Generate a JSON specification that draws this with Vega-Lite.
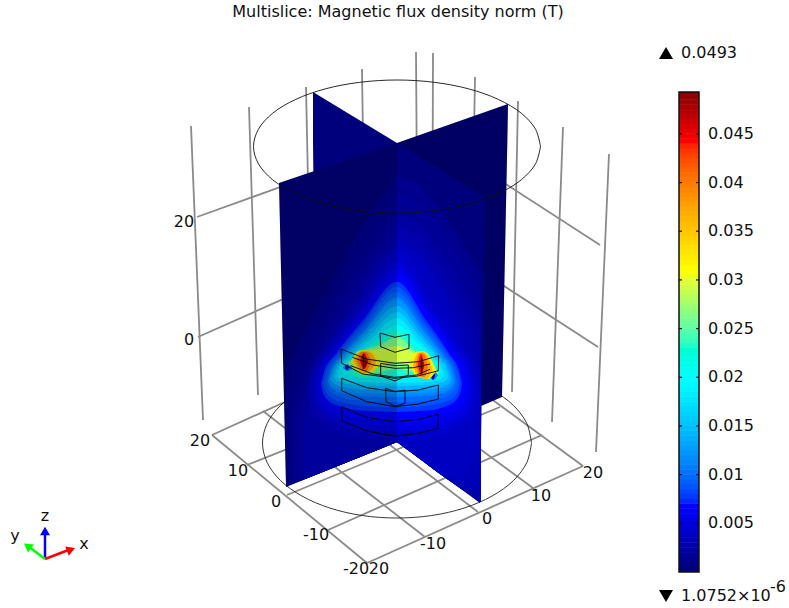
{"$schema":"https://vega.github.io/schema/vega-lite/v6.json","width":789,"height":608,"autosize":{"type":"fit","contains":"padding"},"padding":0,"background":"white","config":{"view":{"stroke":null},"text":{"font":"DejaVu Sans","color":"#111"}},
"datasets":{
"grid":[
{"g":"a0","x":367,"y":563},{"g":"a0","x":583,"y":466},
{"g":"a1","x":328,"y":530},{"g":"a1","x":542,"y":435},
{"g":"a2","x":287,"y":495},{"g":"a2","x":500,"y":407},
{"g":"a3","x":247,"y":465},{"g":"a3","x":458,"y":381},
{"g":"a4","x":212,"y":435},{"g":"a4","x":415,"y":343},
{"g":"b0","x":212,"y":435},{"g":"b0","x":367,"y":563},
{"g":"b1","x":263,"y":411},{"g":"b1","x":425,"y":537},
{"g":"b2","x":315,"y":388},{"g":"b2","x":478,"y":512},
{"g":"b3","x":366,"y":365},{"g":"b3","x":533,"y":488},
{"g":"b4","x":415,"y":343},{"g":"b4","x":583,"y":466},
{"g":"v0","x":191,"y":126},{"g":"v0","x":203,"y":420},
{"g":"v1","x":249,"y":107},{"g":"v1","x":258,"y":395},
{"g":"v2","x":306,"y":87},{"g":"v2","x":312,"y":370},
{"g":"v3","x":362,"y":69},{"g":"v3","x":366,"y":350},
{"g":"v4","x":416,"y":52},{"g":"v4","x":418,"y":330},
{"g":"v5","x":433,"y":53},{"g":"v5","x":432,"y":340},
{"g":"v6","x":475,"y":77},{"g":"v6","x":470,"y":365},
{"g":"v7","x":518,"y":101},{"g":"v7","x":512,"y":392},
{"g":"v8","x":563,"y":127},{"g":"v8","x":552,"y":422},
{"g":"v9","x":609,"y":154},{"g":"v9","x":596,"y":452},
{"g":"h0","x":197,"y":217},{"g":"h0","x":416,"y":138},
{"g":"h1","x":198,"y":337},{"g":"h1","x":416,"y":240},
{"g":"h2","x":600,"y":245},{"g":"h2","x":433,"y":137},
{"g":"h3","x":598,"y":347},{"g":"h3","x":433,"y":240}],
"bottomEllipse":[{"o":0,"x":531.5,"y":443},{"o":1,"x":526.9,"y":462.4},{"o":2,"x":513.5,"y":480.5},{"o":3,"x":492.1,"y":496},{"o":4,"x":464.3,"y":508},{"o":5,"x":431.8,"y":515.5},{"o":6,"x":397,"y":518},{"o":7,"x":362.2,"y":515.5},{"o":8,"x":329.7,"y":508},{"o":9,"x":301.9,"y":496},{"o":10,"x":280.5,"y":480.5},{"o":11,"x":267.1,"y":462.4},{"o":12,"x":262.5,"y":443},{"o":13,"x":267.1,"y":423.6},{"o":14,"x":280.5,"y":405.5},{"o":15,"x":301.9,"y":390},{"o":16,"x":329.7,"y":378},{"o":17,"x":362.2,"y":370.5},{"o":18,"x":397,"y":368},{"o":19,"x":431.8,"y":370.5},{"o":20,"x":464.3,"y":378},{"o":21,"x":492.1,"y":390},{"o":22,"x":513.5,"y":405.5},{"o":23,"x":526.9,"y":423.6},{"o":24,"x":531.5,"y":443}],
"topEllipse":[{"o":0,"x":540.5,"y":146.5},{"o":1,"x":535.6,"y":163.7},{"o":2,"x":521.3,"y":179.8},{"o":3,"x":498.5,"y":193.5},{"o":4,"x":468.8,"y":204.1},{"o":5,"x":434.2,"y":210.7},{"o":6,"x":397,"y":213},{"o":7,"x":359.8,"y":210.7},{"o":8,"x":325.2,"y":204.1},{"o":9,"x":295.5,"y":193.5},{"o":10,"x":272.7,"y":179.8},{"o":11,"x":258.4,"y":163.7},{"o":12,"x":253.5,"y":146.5},{"o":13,"x":258.4,"y":129.3},{"o":14,"x":272.7,"y":113.2},{"o":15,"x":295.5,"y":99.5},{"o":16,"x":325.2,"y":88.9},{"o":17,"x":359.8,"y":82.3},{"o":18,"x":397,"y":80},{"o":19,"x":434.2,"y":82.3},{"o":20,"x":468.8,"y":88.9},{"o":21,"x":498.5,"y":99.5},{"o":22,"x":521.3,"y":113.2},{"o":23,"x":535.6,"y":129.3},{"o":24,"x":540.5,"y":146.5}],
"panelsBack":[
{"p":"LB","v":0,"y":92,"x":313,"x2":313},{"p":"LB","v":0,"y":143,"x":313,"x2":397},{"p":"LB","v":0,"y":300,"x":315,"x2":397},
{"p":"RB","v":0,"y":104,"x":508,"x2":508},{"p":"RB","v":0,"y":143,"x":397,"x2":507.3},{"p":"RB","v":0,"y":397,"x":397,"x2":502},{"p":"RB","v":0,"y":442,"x":397,"x2":397}],
"shadeBack":[{"y":104,"x":508,"x2":508},{"y":143,"x":397,"x2":507.3},{"y":397,"x":397,"x2":502},{"y":442,"x":397,"x2":397}],
"panelsFront":[
{"p":"FL","v":0,"y":143,"x":397,"x2":397},{"p":"FL","v":0,"y":183,"x":279,"x2":397},{"p":"FL","v":0,"y":442,"x":285,"x2":397},{"p":"FL","v":0,"y":487,"x":286,"x2":286},
{"p":"FR","v":0,"y":143,"x":397,"x2":397},{"p":"FR","v":0,"y":198,"x":397,"x2":485},{"p":"FR","v":0,"y":442,"x":397,"x2":481},{"p":"FR","v":0,"y":503,"x":480,"x2":480}],
"shadeFront":[{"y":143,"x":397,"x2":397},{"y":183,"x":279,"x2":397},{"y":442,"x":285,"x2":397},{"y":487,"x":286,"x2":286}],
"outer":[
{"b":1,"v":0.001,"x":286,"y":370,"y2":486},{"b":1,"v":0.001,"x":310,"y":320,"y2":477},{"b":1,"v":0.001,"x":330,"y":285,"y2":469},{"b":1,"v":0.001,"x":350,"y":245,"y2":461},{"b":1,"v":0.001,"x":375,"y":205,"y2":451},{"b":1,"v":0.001,"x":397,"y":175,"y2":442},{"b":1,"v":0.001,"x":420,"y":185,"y2":459},{"b":1,"v":0.001,"x":440,"y":210,"y2":474},{"b":1,"v":0.001,"x":460,"y":240,"y2":488},{"b":1,"v":0.001,"x":481,"y":275,"y2":502},
{"b":2,"v":0.0015,"x":288,"y":390,"y2":485},{"b":2,"v":0.0015,"x":310,"y":338,"y2":477},{"b":2,"v":0.0015,"x":330,"y":300,"y2":469},{"b":2,"v":0.0015,"x":350,"y":262,"y2":461},{"b":2,"v":0.0015,"x":375,"y":222,"y2":451},{"b":2,"v":0.0015,"x":397,"y":193,"y2":442},{"b":2,"v":0.0015,"x":420,"y":205,"y2":459},{"b":2,"v":0.0015,"x":440,"y":230,"y2":474},{"b":2,"v":0.0015,"x":460,"y":260,"y2":488},{"b":2,"v":0.0015,"x":481,"y":298,"y2":502},
{"b":3,"v":0.002,"x":290,"y":410,"y2":484},{"b":3,"v":0.002,"x":310,"y":355,"y2":477},{"b":3,"v":0.002,"x":330,"y":315,"y2":469},{"b":3,"v":0.002,"x":350,"y":280,"y2":461},{"b":3,"v":0.002,"x":375,"y":240,"y2":451},{"b":3,"v":0.002,"x":397,"y":212,"y2":442},{"b":3,"v":0.002,"x":420,"y":225,"y2":459},{"b":3,"v":0.002,"x":440,"y":250,"y2":474},{"b":3,"v":0.002,"x":460,"y":280,"y2":488},{"b":3,"v":0.002,"x":481,"y":320,"y2":502},
{"b":4,"v":0.0025,"x":295,"y":415,"y2":482},{"b":4,"v":0.0025,"x":310,"y":365,"y2":477},{"b":4,"v":0.0025,"x":330,"y":327,"y2":469},{"b":4,"v":0.0025,"x":350,"y":292,"y2":461},{"b":4,"v":0.0025,"x":375,"y":252,"y2":451},{"b":4,"v":0.0025,"x":397,"y":223,"y2":442},{"b":4,"v":0.0025,"x":420,"y":237,"y2":459},{"b":4,"v":0.0025,"x":440,"y":265,"y2":474},{"b":4,"v":0.0025,"x":460,"y":298,"y2":488},{"b":4,"v":0.0025,"x":481,"y":345,"y2":502},
{"b":5,"v":0.003,"x":300,"y":420,"y2":481},{"b":5,"v":0.003,"x":310,"y":375,"y2":477},{"b":5,"v":0.003,"x":330,"y":338,"y2":469},{"b":5,"v":0.003,"x":350,"y":303,"y2":461},{"b":5,"v":0.003,"x":375,"y":263,"y2":451},{"b":5,"v":0.003,"x":397,"y":235,"y2":442},{"b":5,"v":0.003,"x":420,"y":250,"y2":459},{"b":5,"v":0.003,"x":440,"y":280,"y2":474},{"b":5,"v":0.003,"x":460,"y":315,"y2":488},{"b":5,"v":0.003,"x":481,"y":370,"y2":490},
{"b":6,"v":0.0035,"x":305,"y":420,"y2":478},{"b":6,"v":0.0035,"x":320,"y":368,"y2":473},{"b":6,"v":0.0035,"x":335,"y":340,"y2":467},{"b":6,"v":0.0035,"x":350,"y":315,"y2":461},{"b":6,"v":0.0035,"x":375,"y":278,"y2":451},{"b":6,"v":0.0035,"x":397,"y":243,"y2":442},{"b":6,"v":0.0035,"x":420,"y":258,"y2":459},{"b":6,"v":0.0035,"x":440,"y":290,"y2":474},{"b":6,"v":0.0035,"x":460,"y":330,"y2":480},{"b":6,"v":0.0035,"x":480,"y":400,"y2":450}],
"inner":[
{"b":10,"v":0.004,"x":308,"y":390,"y2":390},{"b":10,"v":0.004,"x":311.6,"y":373,"y2":410},{"b":10,"v":0.004,"x":325.8,"y":348,"y2":427},{"b":10,"v":0.004,"x":357,"y":303,"y2":437},{"b":10,"v":0.004,"x":397,"y":250,"y2":440},{"b":10,"v":0.004,"x":434.4,"y":303,"y2":437},{"b":10,"v":0.004,"x":463.4,"y":348,"y2":427},{"b":10,"v":0.004,"x":476.7,"y":373,"y2":410},{"b":10,"v":0.004,"x":480,"y":390,"y2":390},
{"b":11,"v":0.005,"x":313,"y":388,"y2":388},{"b":11,"v":0.005,"x":316.4,"y":373,"y2":405.6},{"b":11,"v":0.005,"x":329.8,"y":350,"y2":421},{"b":11,"v":0.005,"x":359.2,"y":310,"y2":430},{"b":11,"v":0.005,"x":397,"y":262,"y2":432},{"b":11,"v":0.005,"x":431.7,"y":310,"y2":430},{"b":11,"v":0.005,"x":458.6,"y":350,"y2":421},{"b":11,"v":0.005,"x":470.9,"y":373,"y2":405.6},{"b":11,"v":0.005,"x":474,"y":388,"y2":388},
{"b":12,"v":0.0058,"x":316,"y":386,"y2":386},{"b":12,"v":0.0058,"x":319.2,"y":372,"y2":402},{"b":12,"v":0.0058,"x":332.2,"y":351,"y2":416},{"b":12,"v":0.0058,"x":360.5,"y":313.5,"y2":424},{"b":12,"v":0.0058,"x":397,"y":269,"y2":426},{"b":12,"v":0.0058,"x":429.9,"y":313.5,"y2":424},{"b":12,"v":0.0058,"x":455.4,"y":351,"y2":416},{"b":12,"v":0.0058,"x":467.1,"y":372,"y2":402},{"b":12,"v":0.0058,"x":470,"y":386,"y2":386},
{"b":13,"v":0.0065,"x":318,"y":385,"y2":385},{"b":13,"v":0.0065,"x":321.2,"y":371.8,"y2":399},{"b":13,"v":0.0065,"x":333.8,"y":352,"y2":411.3},{"b":13,"v":0.0065,"x":361.5,"y":316.8,"y2":418.3},{"b":13,"v":0.0065,"x":397,"y":275,"y2":420},{"b":13,"v":0.0065,"x":428.1,"y":316.8,"y2":418.3},{"b":13,"v":0.0065,"x":452.2,"y":352,"y2":411.3},{"b":13,"v":0.0065,"x":463.2,"y":371.8,"y2":399},{"b":13,"v":0.0065,"x":466,"y":385,"y2":385},
{"b":14,"v":0.0075,"x":321,"y":384,"y2":384},{"b":14,"v":0.0075,"x":324,"y":371.8,"y2":395.2},{"b":14,"v":0.0075,"x":336.2,"y":353.4,"y2":405},{"b":14,"v":0.0075,"x":362.8,"y":320.8,"y2":410.6},{"b":14,"v":0.0075,"x":397,"y":282,"y2":412},{"b":14,"v":0.0075,"x":426.3,"y":320.8,"y2":410.6},{"b":14,"v":0.0075,"x":449,"y":353.4,"y2":405},{"b":14,"v":0.0075,"x":459.4,"y":371.8,"y2":395.2},{"b":14,"v":0.0075,"x":462,"y":384,"y2":384},
{"b":15,"v":0.0085,"x":323,"y":383,"y2":383},{"b":15,"v":0.0085,"x":326,"y":371.5,"y2":392.6},{"b":15,"v":0.0085,"x":337.8,"y":354.2,"y2":401},{"b":15,"v":0.0085,"x":363.7,"y":323.5,"y2":405.8},{"b":15,"v":0.0085,"x":397,"y":287,"y2":407},{"b":15,"v":0.0085,"x":425.4,"y":323.5,"y2":405.8},{"b":15,"v":0.0085,"x":447.4,"y":354.2,"y2":401},{"b":15,"v":0.0085,"x":457.5,"y":371.5,"y2":392.6},{"b":15,"v":0.0085,"x":460,"y":383,"y2":383},
{"b":16,"v":0.0095,"x":326,"y":382,"y2":382},{"b":16,"v":0.0095,"x":328.8,"y":371.2,"y2":390},{"b":16,"v":0.0095,"x":340.2,"y":355,"y2":397},{"b":16,"v":0.0095,"x":365,"y":326.2,"y2":401},{"b":16,"v":0.0095,"x":397,"y":292,"y2":402},{"b":16,"v":0.0095,"x":424,"y":326.2,"y2":401},{"b":16,"v":0.0095,"x":445,"y":355,"y2":397},{"b":16,"v":0.0095,"x":454.6,"y":371.2,"y2":390},{"b":16,"v":0.0095,"x":457,"y":382,"y2":382},
{"b":17,"v":0.011,"x":328,"y":381,"y2":381},{"b":17,"v":0.011,"x":330.8,"y":371,"y2":387.4},{"b":17,"v":0.011,"x":341.8,"y":355.8,"y2":393},{"b":17,"v":0.011,"x":366,"y":328.9,"y2":396.2},{"b":17,"v":0.011,"x":397,"y":297,"y2":397},{"b":17,"v":0.011,"x":423.1,"y":328.9,"y2":396.2},{"b":17,"v":0.011,"x":443.4,"y":355.8,"y2":393},{"b":17,"v":0.011,"x":452.7,"y":371,"y2":387.4},{"b":17,"v":0.011,"x":455,"y":381,"y2":381},
{"b":18,"v":0.012,"x":329,"y":380,"y2":380},{"b":18,"v":0.012,"x":331.7,"y":370.4,"y2":385.6},{"b":18,"v":0.012,"x":342.6,"y":356,"y2":390.5},{"b":18,"v":0.012,"x":366.4,"y":330.4,"y2":393.3},{"b":18,"v":0.012,"x":397,"y":300,"y2":394},{"b":18,"v":0.012,"x":422.2,"y":330.4,"y2":393.3},{"b":18,"v":0.012,"x":441.8,"y":356,"y2":390.5},{"b":18,"v":0.012,"x":450.8,"y":370.4,"y2":385.6},{"b":18,"v":0.012,"x":453,"y":380,"y2":380},
{"b":19,"v":0.014,"x":331,"y":379,"y2":379},{"b":19,"v":0.014,"x":333.6,"y":370.2,"y2":383.4},{"b":19,"v":0.014,"x":344.2,"y":357.1,"y2":387.3},{"b":19,"v":0.014,"x":366.7,"y":333.7,"y2":389.5},{"b":19,"v":0.014,"x":397,"y":306,"y2":390},{"b":19,"v":0.014,"x":421.3,"y":333.7,"y2":389.5},{"b":19,"v":0.014,"x":440.2,"y":357.1,"y2":387.3},{"b":19,"v":0.014,"x":448.8,"y":370.2,"y2":383.4},{"b":19,"v":0.014,"x":451,"y":379,"y2":379},
{"b":20,"v":0.016,"x":334,"y":377,"y2":377},{"b":20,"v":0.016,"x":336.5,"y":369.2,"y2":380.6},{"b":20,"v":0.016,"x":346.6,"y":357.5,"y2":383.8},{"b":20,"v":0.016,"x":368.4,"y":336.7,"y2":385.6},{"b":20,"v":0.016,"x":397,"y":312,"y2":386},{"b":20,"v":0.016,"x":420,"y":336.7,"y2":385.6},{"b":20,"v":0.016,"x":437.8,"y":357.5,"y2":383.8},{"b":20,"v":0.016,"x":446,"y":369.2,"y2":380.6},{"b":20,"v":0.016,"x":448,"y":377,"y2":377},
{"b":21,"v":0.018,"x":337,"y":375,"y2":375},{"b":21,"v":0.018,"x":339.4,"y":368.2,"y2":378.2},{"b":21,"v":0.018,"x":349,"y":357.9,"y2":381},{"b":21,"v":0.018,"x":370,"y":339.7,"y2":382.6},{"b":21,"v":0.018,"x":397,"y":318,"y2":383},{"b":21,"v":0.018,"x":418.2,"y":339.7,"y2":382.6},{"b":21,"v":0.018,"x":434.6,"y":357.9,"y2":381},{"b":21,"v":0.018,"x":442.1,"y":368.2,"y2":378.2},{"b":21,"v":0.018,"x":444,"y":375,"y2":375},
{"b":22,"v":0.0205,"x":342,"y":372,"y2":372},{"b":22,"v":0.0205,"x":344.2,"y":366.4,"y2":374.4},{"b":22,"v":0.0205,"x":353,"y":357.9,"y2":376.5},{"b":22,"v":0.0205,"x":372.3,"y":342.9,"y2":377.7},{"b":22,"v":0.0205,"x":397,"y":325,"y2":378},{"b":22,"v":0.0205,"x":416.8,"y":342.9,"y2":377.7},{"b":22,"v":0.0205,"x":432.2,"y":357.9,"y2":376.5},{"b":22,"v":0.0205,"x":439.2,"y":366.4,"y2":374.4},{"b":22,"v":0.0205,"x":441,"y":372,"y2":372},
{"b":23,"v":0.023,"x":345,"y":365,"y2":366},{"b":23,"v":0.023,"x":362,"y":350,"y2":378},{"b":23,"v":0.023,"x":380,"y":342,"y2":376},{"b":23,"v":0.023,"x":397,"y":331,"y2":373},{"b":23,"v":0.023,"x":415,"y":348,"y2":377},{"b":23,"v":0.023,"x":435,"y":366,"y2":380},
{"b":24,"v":0.026,"x":348,"y":363,"y2":364},{"b":24,"v":0.026,"x":365,"y":350,"y2":375},{"b":24,"v":0.026,"x":380,"y":345,"y2":372},{"b":24,"v":0.026,"x":397,"y":337,"y2":369},{"b":24,"v":0.026,"x":415,"y":352,"y2":372},{"b":24,"v":0.026,"x":437,"y":370,"y2":378},
{"b":25,"v":0.029,"x":351,"y":361,"y2":362},{"b":25,"v":0.029,"x":365,"y":352,"y2":372},{"b":25,"v":0.029,"x":380,"y":349,"y2":366},{"b":25,"v":0.029,"x":397,"y":346,"y2":362},{"b":25,"v":0.029,"x":415,"y":354,"y2":368},{"b":25,"v":0.029,"x":438,"y":372,"y2":378},
{"b":26,"v":0.012,"x":343,"y":367,"y2":368},{"b":26,"v":0.012,"x":347,"y":364,"y2":371},{"b":26,"v":0.012,"x":352,"y":368,"y2":369},
{"b":27,"v":0.004,"x":345,"y":367,"y2":368},{"b":27,"v":0.004,"x":347,"y":365,"y2":370},{"b":27,"v":0.004,"x":349,"y":367,"y2":368},
{"b":28,"v":0.012,"x":428,"y":374,"y2":375},{"b":28,"v":0.012,"x":433,"y":370,"y2":380},{"b":28,"v":0.012,"x":438,"y":375,"y2":376},
{"b":29,"v":0.004,"x":431,"y":375,"y2":376},{"b":29,"v":0.004,"x":433,"y":371,"y2":380},{"b":29,"v":0.004,"x":435,"y":375,"y2":376},
{"b":30,"v":0.032,"x":352,"y":360,"y2":361},{"b":30,"v":0.032,"x":358,"y":351,"y2":372},{"b":30,"v":0.032,"x":364,"y":350,"y2":374},{"b":30,"v":0.032,"x":372,"y":352,"y2":372},{"b":30,"v":0.032,"x":380,"y":362,"y2":363},
{"b":31,"v":0.036,"x":354,"y":360,"y2":361},{"b":31,"v":0.036,"x":360,"y":352,"y2":371},{"b":31,"v":0.036,"x":365,"y":351,"y2":373},{"b":31,"v":0.036,"x":371,"y":353,"y2":370},{"b":31,"v":0.036,"x":376,"y":361,"y2":362},
{"b":32,"v":0.04,"x":357,"y":360,"y2":361},{"b":32,"v":0.04,"x":362,"y":352,"y2":370},{"b":32,"v":0.04,"x":366,"y":352,"y2":371},{"b":32,"v":0.04,"x":371,"y":361,"y2":362},
{"b":33,"v":0.044,"x":360,"y":360,"y2":361},{"b":33,"v":0.044,"x":364,"y":353,"y2":369},{"b":33,"v":0.044,"x":368,"y":361,"y2":362},
{"b":34,"v":0.048,"x":363,"y":361,"y2":362},{"b":34,"v":0.048,"x":365,"y":356,"y2":368},{"b":34,"v":0.048,"x":367,"y":361,"y2":362},
{"b":35,"v":0.032,"x":410,"y":364,"y2":365},{"b":35,"v":0.032,"x":416,"y":352,"y2":376},{"b":35,"v":0.032,"x":422,"y":351,"y2":378},{"b":35,"v":0.032,"x":428,"y":354,"y2":379},{"b":35,"v":0.032,"x":436,"y":370,"y2":371},
{"b":36,"v":0.036,"x":413,"y":365,"y2":366},{"b":36,"v":0.036,"x":418,"y":353,"y2":376},{"b":36,"v":0.036,"x":422,"y":352,"y2":378},{"b":36,"v":0.036,"x":427,"y":355,"y2":379},{"b":36,"v":0.036,"x":432,"y":369,"y2":370},
{"b":37,"v":0.04,"x":416,"y":364,"y2":365},{"b":37,"v":0.04,"x":420,"y":353,"y2":376},{"b":37,"v":0.04,"x":424,"y":354,"y2":377},{"b":37,"v":0.04,"x":428,"y":367,"y2":368},
{"b":38,"v":0.044,"x":418,"y":364,"y2":365},{"b":38,"v":0.044,"x":421,"y":354,"y2":375},{"b":38,"v":0.044,"x":424,"y":365,"y2":366},
{"b":39,"v":0.048,"x":420,"y":365,"y2":366},{"b":39,"v":0.048,"x":422,"y":358,"y2":372},{"b":39,"v":0.048,"x":424,"y":365,"y2":366}],
"wires":[
{"g":"w1","o":0,"x":380,"y":333},{"g":"w1","o":1,"x":395,"y":337.3},{"g":"w1","o":2,"x":409,"y":334.3},{"g":"w1","o":3,"x":409,"y":348.3},{"g":"w1","o":4,"x":395,"y":352.3},{"g":"w1","o":5,"x":380.7,"y":346.7},{"g":"w1","o":6,"x":380,"y":333},
{"g":"w2","o":0,"x":341,"y":349},{"g":"w2","o":1,"x":366.7,"y":359},{"g":"w2","o":2,"x":395,"y":363.3},{"g":"w2","o":3,"x":418.3,"y":361.7},{"g":"w2","o":4,"x":438.7,"y":355.7},{"g":"w2","o":5,"x":438.3,"y":370.7},{"g":"w2","o":6,"x":418,"y":376},{"g":"w2","o":7,"x":395,"y":378.3},{"g":"w2","o":8,"x":363,"y":374},{"g":"w2","o":9,"x":341.7,"y":363.3},{"g":"w2","o":10,"x":341,"y":349},
{"g":"w3","o":0,"x":341.7,"y":378.3},{"g":"w3","o":1,"x":366.7,"y":387.7},{"g":"w3","o":2,"x":395,"y":391.7},{"g":"w3","o":3,"x":418.3,"y":390},{"g":"w3","o":4,"x":438.3,"y":385},{"g":"w3","o":5,"x":438.3,"y":399},{"g":"w3","o":6,"x":418.3,"y":404},{"g":"w3","o":7,"x":395,"y":406.7},{"g":"w3","o":8,"x":366.7,"y":401.7},{"g":"w3","o":9,"x":341.7,"y":390.7},{"g":"w3","o":10,"x":341.7,"y":378.3},
{"g":"w4","o":0,"x":341.7,"y":406.7},{"g":"w4","o":1,"x":366.7,"y":417.3},{"g":"w4","o":2,"x":395,"y":421.7},{"g":"w4","o":3,"x":418.3,"y":419.3},{"g":"w4","o":4,"x":438.3,"y":414.3},{"g":"w4","o":5,"x":437.7,"y":428.3},{"g":"w4","o":6,"x":418.3,"y":433.3},{"g":"w4","o":7,"x":395,"y":436},{"g":"w4","o":8,"x":366.7,"y":431},{"g":"w4","o":9,"x":342.3,"y":421},{"g":"w4","o":10,"x":341.7,"y":406.7},
{"g":"w5","o":0,"x":380.7,"y":363.3},{"g":"w5","o":1,"x":395,"y":365.7},{"g":"w5","o":2,"x":408.3,"y":365},{"g":"w5","o":3,"x":408.3,"y":375},{"g":"w5","o":4,"x":395,"y":381},{"g":"w5","o":5,"x":380.7,"y":376},{"g":"w5","o":6,"x":380.7,"y":363.3},
{"g":"w6","o":0,"x":385.7,"y":388.3},{"g":"w6","o":1,"x":395,"y":391.7},{"g":"w6","o":2,"x":405,"y":390},{"g":"w6","o":3,"x":405,"y":403.3},{"g":"w6","o":4,"x":395,"y":406},{"g":"w6","o":5,"x":386,"y":401.7},{"g":"w6","o":6,"x":385.7,"y":388.3},
{"g":"w7","o":0,"x":352.3,"y":357.3},{"g":"w7","o":1,"x":373.3,"y":365},{"g":"w7","o":2,"x":395,"y":368.3},{"g":"w7","o":3,"x":413.3,"y":367.7},{"g":"w7","o":4,"x":430,"y":364},
{"g":"w8","o":0,"x":350.7,"y":365.7},{"g":"w8","o":1,"x":373,"y":374},{"g":"w8","o":2,"x":395,"y":377.3},{"g":"w8","o":3,"x":416.7,"y":375},{"g":"w8","o":4,"x":430,"y":369.3},
{"g":"w9","o":0,"x":363.3,"y":354},{"g":"w9","o":1,"x":363.3,"y":369},
{"g":"w10","o":0,"x":421.7,"y":358.3},{"g":"w10","o":1,"x":421.7,"y":374}],
"labels":[
{"x":184,"y":222,"t":"20"},{"x":189,"y":340,"t":"0"},{"x":200,"y":441,"t":"20"},{"x":238,"y":471,"t":"10"},{"x":276,"y":502,"t":"0"},{"x":316,"y":535,"t":"-10"},{"x":356,"y":569,"t":"-20"},{"x":379,"y":569,"t":"20"},{"x":433,"y":544,"t":"-10"},{"x":487,"y":519,"t":"0"},{"x":541,"y":496,"t":"10"},{"x":593,"y":473,"t":"20"},
{"x":45,"y":516,"t":"z"},{"x":84,"y":544,"t":"x"},{"x":15,"y":536,"t":"y"}],
"bar":[{"v":0,"w":0.00055},{"v":0.0005,"w":0.00105},{"v":0.001,"w":0.00155},{"v":0.0015,"w":0.00205},{"v":0.002,"w":0.00255},{"v":0.0025,"w":0.00305},{"v":0.003,"w":0.00355},{"v":0.0035,"w":0.00405},{"v":0.004,"w":0.00455},{"v":0.0045,"w":0.00505},{"v":0.005,"w":0.00555},{"v":0.0055,"w":0.00605},{"v":0.006,"w":0.00655},{"v":0.0065,"w":0.00705},{"v":0.007,"w":0.00755},{"v":0.0075,"w":0.00805},{"v":0.008,"w":0.00855},{"v":0.0085,"w":0.00905},{"v":0.009,"w":0.00955},{"v":0.0095,"w":0.01005},{"v":0.01,"w":0.01055},{"v":0.0105,"w":0.01105},{"v":0.011,"w":0.01155},{"v":0.0115,"w":0.01205},{"v":0.012,"w":0.01255},{"v":0.0125,"w":0.01305},{"v":0.013,"w":0.01355},{"v":0.0135,"w":0.01405},{"v":0.014,"w":0.01455},{"v":0.0145,"w":0.01505},{"v":0.015,"w":0.01555},{"v":0.0155,"w":0.01605},{"v":0.016,"w":0.01655},{"v":0.0165,"w":0.01705},{"v":0.017,"w":0.01755},{"v":0.0175,"w":0.01805},{"v":0.018,"w":0.01855},{"v":0.0185,"w":0.01905},{"v":0.019,"w":0.01955},{"v":0.0195,"w":0.02005},{"v":0.02,"w":0.02055},{"v":0.0205,"w":0.02105},{"v":0.021,"w":0.02155},{"v":0.0215,"w":0.02205},{"v":0.022,"w":0.02255},{"v":0.0225,"w":0.02305},{"v":0.023,"w":0.02355},{"v":0.0235,"w":0.02405},{"v":0.024,"w":0.02455},{"v":0.0245,"w":0.02505},{"v":0.025,"w":0.02555},{"v":0.0255,"w":0.02605},{"v":0.026,"w":0.02655},{"v":0.0265,"w":0.02705},{"v":0.027,"w":0.02755},{"v":0.0275,"w":0.02805},{"v":0.028,"w":0.02855},{"v":0.0285,"w":0.02905},{"v":0.029,"w":0.02955},{"v":0.0295,"w":0.03005},{"v":0.03,"w":0.03055},{"v":0.0305,"w":0.03105},{"v":0.031,"w":0.03155},{"v":0.0315,"w":0.03205},{"v":0.032,"w":0.03255},{"v":0.0325,"w":0.03305},{"v":0.033,"w":0.03355},{"v":0.0335,"w":0.03405},{"v":0.034,"w":0.03455},{"v":0.0345,"w":0.03505},{"v":0.035,"w":0.03555},{"v":0.0355,"w":0.03605},{"v":0.036,"w":0.03655},{"v":0.0365,"w":0.03705},{"v":0.037,"w":0.03755},{"v":0.0375,"w":0.03805},{"v":0.038,"w":0.03855},{"v":0.0385,"w":0.03905},{"v":0.039,"w":0.03955},{"v":0.0395,"w":0.04005},{"v":0.04,"w":0.04055},{"v":0.0405,"w":0.04105},{"v":0.041,"w":0.04155},{"v":0.0415,"w":0.04205},{"v":0.042,"w":0.04255},{"v":0.0425,"w":0.04305},{"v":0.043,"w":0.04355},{"v":0.0435,"w":0.04405},{"v":0.044,"w":0.04455},{"v":0.0445,"w":0.04505},{"v":0.045,"w":0.04555},{"v":0.0455,"w":0.04605},{"v":0.046,"w":0.04655},{"v":0.0465,"w":0.04705},{"v":0.047,"w":0.04755},{"v":0.0475,"w":0.04805},{"v":0.048,"w":0.04855},{"v":0.0485,"w":0.04905},{"v":0.049,"w":0.0493}],
"ticks":[{"v":0.005,"t":"0.005"},{"v":0.01,"t":"0.01"},{"v":0.015,"t":"0.015"},{"v":0.02,"t":"0.02"},{"v":0.025,"t":"0.025"},{"v":0.03,"t":"0.03"},{"v":0.035,"t":"0.035"},{"v":0.04,"t":"0.04"},{"v":0.045,"t":"0.045"}]
},
"layer":[
{"encoding":{"x":{"field":"x","type":"quantitative","scale":{"domain":[0,789],"nice":false,"zero":false},"axis":null},"y":{"field":"y","type":"quantitative","scale":{"domain":[608,0],"nice":false,"zero":false},"axis":null}},
"layer":[
{"data":{"name":"grid"},"mark":{"type":"line","color":"#8a8a8a","strokeWidth":1.8},"encoding":{"detail":{"field":"g"}}},
{"data":{"name":"bottomEllipse"},"mark":{"type":"line","color":"#222","strokeWidth":0.9,"interpolate":"catmull-rom"},"encoding":{"order":{"field":"o"}}},
{"data":{"name":"panelsBack"},"mark":{"type":"area","orient":"horizontal"},"encoding":{"x2":{"field":"x2"},"detail":{"field":"p"},"color":{"field":"v","type":"quantitative","scale":{"domain":[0,0.0065,0.0195,0.0307,0.044,0.0493],"range":["#00007c","#0000ff","#00ffff","#ffff00","#ff0000","#800000"]},"legend":null}}},
{"data":{"name":"shadeBack"},"mark":{"type":"area","orient":"horizontal","color":"black","opacity":0.2},"encoding":{"x2":{"field":"x2"}}},
{"data":{"name":"panelsFront"},"mark":{"type":"area","orient":"horizontal"},"encoding":{"x2":{"field":"x2"},"detail":{"field":"p"},"color":{"field":"v","type":"quantitative","legend":null}}},
{"data":{"name":"outer"},"mark":{"type":"area"},"encoding":{"y2":{"field":"y2"},"detail":{"field":"b"},"color":{"field":"v","type":"quantitative","legend":null}}},
{"data":{"name":"inner"},"mark":{"type":"area","interpolate":"monotone"},"encoding":{"y2":{"field":"y2"},"detail":{"field":"b"},"color":{"field":"v","type":"quantitative","legend":null}}},
{"data":{"name":"shadeFront"},"mark":{"type":"area","orient":"horizontal","color":"black","opacity":0.18},"encoding":{"x2":{"field":"x2"}}},
{"data":{"name":"topEllipse"},"mark":{"type":"line","color":"#111","strokeWidth":0.9,"interpolate":"catmull-rom"},"encoding":{"order":{"field":"o"}}},
{"data":{"name":"wires"},"mark":{"type":"line","color":"#000","strokeWidth":0.9},"encoding":{"detail":{"field":"g"},"order":{"field":"o"}}},
{"data":{"values":[{"x":45,"y":559},{"x":45,"y":530}]},"mark":{"type":"line","color":"#0000ff","strokeWidth":2.5},"encoding":{}},
{"data":{"values":[{"x":45,"y":531}]},"mark":{"type":"point","shape":"triangle-up","filled":true,"size":100,"color":"#0000ff","opacity":1},"encoding":{}},
{"data":{"values":[{"x":45,"y":559},{"x":71,"y":549}]},"mark":{"type":"line","color":"#ff0000","strokeWidth":2.5},"encoding":{}},
{"data":{"values":[{"x":71,"y":549.5}]},"mark":{"type":"point","shape":"triangle-up","filled":true,"size":100,"color":"#ff0000","opacity":1,"angle":69},"encoding":{}},
{"data":{"values":[{"x":45,"y":559},{"x":28,"y":546}]},"mark":{"type":"line","color":"#00ff00","strokeWidth":2.5},"encoding":{}},
{"data":{"values":[{"x":27.5,"y":546}]},"mark":{"type":"point","shape":"triangle-up","filled":true,"size":100,"color":"#00ff00","opacity":1,"angle":306},"encoding":{}},
{"data":{"name":"labels"},"mark":{"type":"text","fontSize":16,"font":"DejaVu Sans"},"encoding":{"text":{"field":"t"}}},
{"data":{"values":[{"x":398,"y":12,"t":"Multislice: Magnetic flux density norm (T)"}]},"mark":{"type":"text","fontSize":16,"font":"DejaVu Sans"},"encoding":{"text":{"field":"t"}}},
{"data":{"values":[{"x":681,"y":53,"t":"0.0493"},{"x":681,"y":596,"t":"1.0752×10"}]},"mark":{"type":"text","fontSize":16,"font":"DejaVu Sans","align":"left"},"encoding":{"text":{"field":"t"}}},
{"data":{"values":[{"x":770,"y":587,"t":"-6"}]},"mark":{"type":"text","fontSize":16,"font":"DejaVu Sans","align":"left"},"encoding":{"text":{"field":"t"}}},
{"data":{"values":[{"x":666,"y":53}]},"mark":{"type":"point","shape":"triangle-up","filled":true,"size":196,"color":"#000","opacity":1},"encoding":{}},
{"data":{"values":[{"x":666,"y":596}]},"mark":{"type":"point","shape":"triangle-down","filled":true,"size":196,"color":"#000","opacity":1},"encoding":{}}
]},
{"encoding":{"x":{"datum":679,"type":"quantitative","scale":{"domain":[0,789],"nice":false,"zero":false},"axis":null},"x2":{"datum":699},"y":{"field":"v","type":"quantitative","scale":{"domain":[0,0.0493],"range":[572,92],"nice":false,"zero":false},"axis":null}},
"layer":[
{"data":{"name":"bar"},"mark":{"type":"rect"},"encoding":{"y2":{"field":"w"},"color":{"field":"v","type":"quantitative","legend":null}}},
{"data":{"values":[{"v":0,"w":0.0493}]},"mark":{"type":"rect","fill":null,"stroke":"#111","strokeWidth":1.5},"encoding":{"y2":{"field":"w"}}},
{"data":{"name":"ticks"},"mark":{"type":"rule","color":"#111","strokeWidth":1.2},"encoding":{"x2":{"datum":682}}},
{"data":{"name":"ticks"},"mark":{"type":"rule","color":"#111","strokeWidth":1.2},"encoding":{"x":{"datum":696,"type":"quantitative"},"x2":{"datum":699}}},
{"data":{"name":"ticks"},"mark":{"type":"text","fontSize":16,"font":"DejaVu Sans","align":"left"},"encoding":{"x":{"datum":708,"type":"quantitative"},"x2":null,"text":{"field":"t"}}}
]}
],
"resolve":{"scale":{"y":"independent"}}}
